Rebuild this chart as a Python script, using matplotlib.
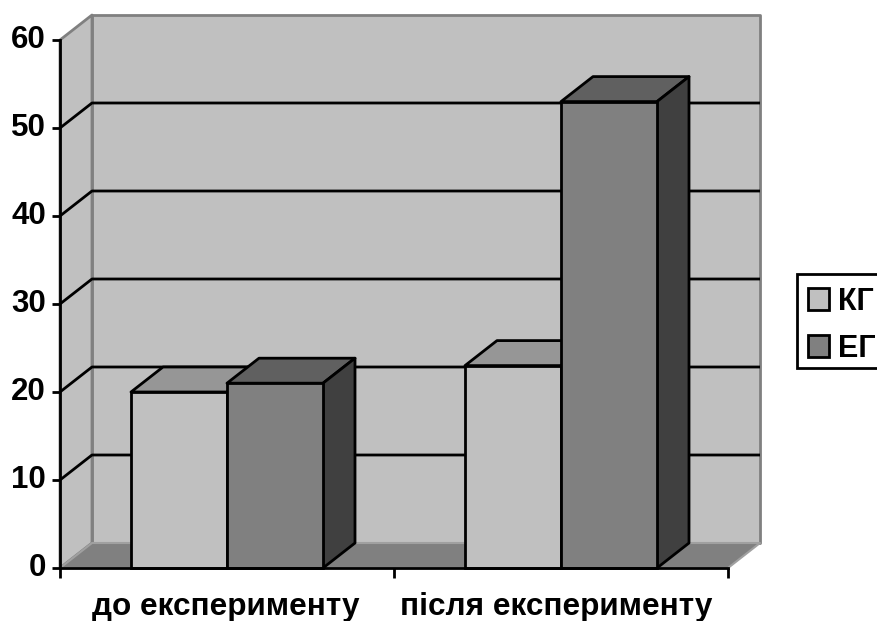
import matplotlib
matplotlib.use('Agg')
import matplotlib.pyplot as plt
from matplotlib.patches import Polygon, Rectangle
import numpy as np

categories = ['до експерименту', 'після експерименту']
kg_values = [20, 23]
eg_values = [21, 53]
series_names = ['КГ', 'ЕГ']
y_ticks = [0, 10, 20, 30, 40, 50, 60]

W, H = 877, 621
plt.rcParams['font.family'] = ['Liberation Sans', 'DejaVu Sans']
plt.rcParams['font.weight'] = 'bold'

fig = plt.figure(figsize=(W/100, H/100), dpi=100)
# front plane of the fake 3d box
ax = fig.add_axes([60/W, (H-568)/H, 668/W, 528/H])
ax.set_xlim(0, 2)
ax.set_ylim(0, 60)

# depth of the box in data units
dx = 32/668*2
dy = 25/528*60
bar_w = 96/334
bar_start = 71/334
lw = 2.0


def poly(points, fc, ec='black', z=1, w=lw):
    ax.add_patch(Polygon(points, closed=True, facecolor=fc, edgecolor=ec,
                         linewidth=w, zorder=z, clip_on=False, joinstyle='round'))


# walls and floor
poly([(dx, dy), (2+dx, dy), (2+dx, 60+dy), (dx, 60+dy)], '#c0c0c0', '#808080', 1, 2.0)
poly([(0, 0), (dx, dy), (dx, 60+dy), (0, 60)], '#c0c0c0', '#808080', 1, 2.0)
poly([(0, 0), (2, 0), (2+dx, dy), (dx, dy)], '#808080', '#a0a0a0', 1, 1.5)

# grid lines run along side wall and back wall
for t in y_ticks[1:-1]:
    ax.plot([0, dx, 2+dx], [t, t+dy, t+dy], color='black', lw=lw, zorder=2,
            clip_on=False, solid_capstyle='butt')

x_pos = np.arange(len(categories))
front_colors = ['#c0c0c0', '#808080']
top_colors = ['#969696', '#606060']
side_colors = ['#606060', '#404040']

for i, vals in enumerate([kg_values, eg_values]):
    lefts = x_pos + bar_start + i*bar_w
    ax.bar(lefts, vals, width=bar_w, align='edge', color=front_colors[i],
           edgecolor='black', linewidth=lw, zorder=4+2*i, label=series_names[i],
           clip_on=False)
    for x, v in zip(lefts, vals):
        poly([(x, v), (x+bar_w, v), (x+bar_w+dx, v+dy), (x+dx, v+dy)],
             top_colors[i], z=3+2*i)
        poly([(x+bar_w, 0), (x+bar_w+dx, dy), (x+bar_w+dx, v+dy), (x+bar_w, v)],
             side_colors[i], z=3+2*i)

# axes lines, only left and bottom of the front plane
for s in ['top', 'right']:
    ax.spines[s].set_visible(False)
for s in ['left', 'bottom']:
    ax.spines[s].set_linewidth(lw)
    ax.spines[s].set_zorder(10)

ax.set_yticks(y_ticks)
ax.set_xticks([0, 1, 2])
ax.set_xticklabels([])
ax.set_xticks([0.496, 1.487], minor=True)
ax.set_xticklabels(categories, minor=True)
ax.tick_params(axis='y', labelsize=22.5, length=6, width=2, pad=4)
ax.tick_params(axis='x', which='major', length=7, width=2)
ax.tick_params(axis='x', which='minor', length=0, labelsize=22.7, pad=17)
for t in ax.get_yticklabels():
    t.set_verticalalignment('center')

# legend box runs off the right edge of the picture, so draw the frame apart
fig.add_artist(Rectangle((797/W, (H-368)/H), 90/W, 94/H, transform=fig.transFigure,
                         facecolor='white', edgecolor='black', linewidth=2))
leg = ax.legend(loc='upper left', bbox_to_anchor=(795/W, (H-274)/H),
                bbox_transform=fig.transFigure, fontsize=22, frameon=False,
                borderaxespad=0, handlelength=0.7, handleheight=0.7,
                handletextpad=0.3, labelspacing=0.55, borderpad=0.42)
leg.set_clip_on(False)
leg.set_zorder(20)
fig.add_artist(leg)

fig.savefig('out.png', dpi=100)
